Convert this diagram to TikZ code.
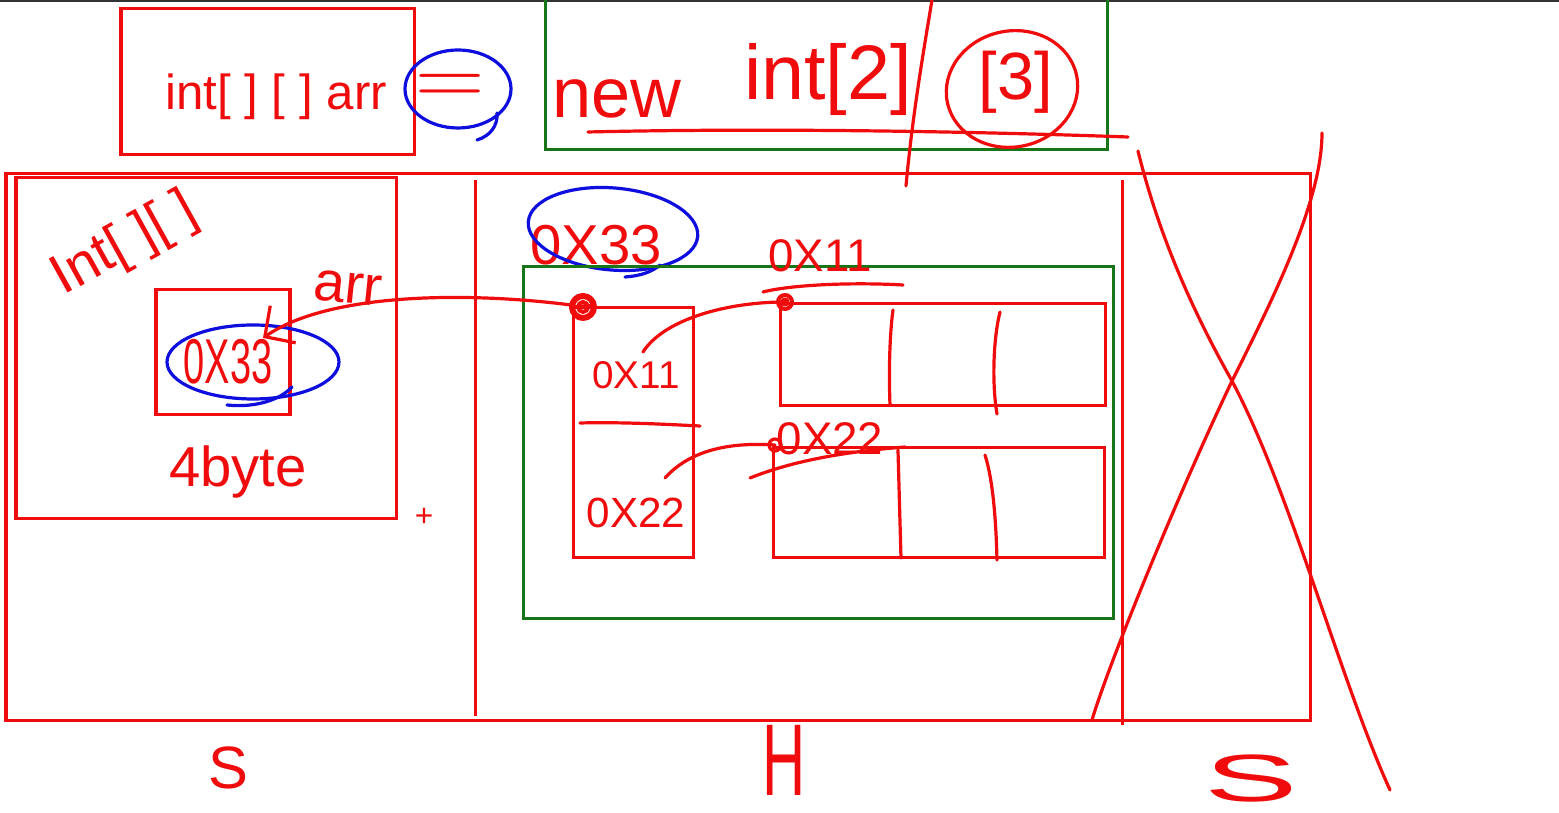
\documentclass[tikz,border=0pt]{standalone}
\usepackage{fontspec}
\setmainfont{Liberation Sans}
\usetikzlibrary{arrows.meta}
\definecolor{pred}{RGB}{240,12,12}
\definecolor{pgreen}{RGB}{24,118,24}
\definecolor{pblue}{RGB}{14,14,222}
\tikzset{
  redbox/.style={draw=pred,line width=0.03cm},
  greenbox/.style={draw=pgreen,line width=0.03cm},
  pen/.style={draw=pred,line width=0.032cm,line cap=round,line join=round},
  bluepen/.style={draw=pblue,line width=0.032cm,line cap=round},
  hand/.style={text=pred,inner sep=0pt},
  fs/.style={font=\fontsize{#1}{#1}\selectfont},
}
\begin{document}
\begin{tikzpicture}[x=0.01cm,y=-0.01cm]
\useasboundingbox (0,0) rectangle (1559,813);
\fill[white] (0,0) rectangle (1559,813);
\fill[black!80] (0,0) rectangle (1559,2);

% ---------- declaration ----------
\draw[redbox] (121,9) rectangle (414,155);
\node[hand,fs=14] (decl) at (276,97) {int[ ] [ ] arr};
\node[hand,fs=30,xscale=1.1] (eq) at (450,90) {$=$};
\draw[bluepen] (458,89) ellipse [x radius=53, y radius=39];
\draw[bluepen] (477,140) .. controls (490,136) and (498,126) .. (497,113);

% ---------- new int[2][3] ----------
\draw[greenbox] (545,-5) -- (545,150) -- (1107,150) -- (1107,-5);
\node[hand,fs=20] (new) at (617,99) {new};
\node[hand,fs=22] (int2) at (828,80) {int[2]};
\node[hand,fs=19] (int3) at (1016,82) {[3]};
\draw[pen] (588,132) .. controls (760,128) and (960,131) .. (1128,137);
\draw[pen] (932,0) .. controls (922,60) and (912,120) .. (906,186);
\draw[pen,rotate around={12:(1012,89)}] (1012,89) ellipse [x radius=66, y radius=58];

% ---------- memory frame ----------
\draw[redbox] (6,174) rectangle (1310,721);
\draw[redbox] (475,180) -- (475,716);
\draw[redbox] (1122,180) -- (1122,725);

% ---------- stack ----------
\draw[redbox] (16,178) rectangle (396,519);
\node[hand,fs=16,rotate=29] (ttype) at (125,245) {Int[ ][ ]};
\draw[redbox] (156,290) rectangle (290,415);
\node[hand,fs=18,xscale=0.6] (sref) at (228,362) {0X33};
\draw[bluepen] (253,362) ellipse [x radius=86, y radius=37];
\draw[bluepen] (227,405) .. controls (255,408) and (280,400) .. (292,387);
\node[hand,fs=16,rotate=-6] (arrname) at (348,288) {arr};
\node[hand,fs=16] (size) at (238,472) {4byte};
\node[text=pred,fs=9,inner sep=0pt] (cursor) at (424,517) {+};

% ---------- heap ----------
\node[hand,fs=16] (haddr) at (596,245) {0X33};
\draw[bluepen,rotate around={-5:(613,229)}] (613,229) ellipse [x radius=85, y radius=41];
\draw[bluepen] (625,277) .. controls (640,276) and (652,272) .. (660,265);
\draw[greenbox] (523,267) rectangle (1113,619);

\draw[redbox] (573,308) rectangle (693,558);
\draw[pen] (580,423) .. controls (620,422) and (660,424) .. (700,426);
\node[hand,fs=11] (r1) at (636,375) {0X11};
\node[hand,fs=12] (r2) at (636,513) {0X22};

\draw[redbox] (780,304) rectangle (1105,406);
\draw[pen] (893,310) .. controls (889,340) and (889,380) .. (890,405);
\draw[pen] (1000,312) .. controls (993,340) and (992,385) .. (997,414);
\draw[redbox] (773,448) rectangle (1104,558);
\draw[pen] (898,450) -- (901,558);
\draw[pen] (985,455) .. controls (993,480) and (996,520) .. (997,560);

\node[hand,fs=13] (a1) at (820,256) {0X11};
\draw[pen] (763,292) .. controls (790,285) and (850,282) .. (903,285);
\node[hand,fs=13] (a2) at (830,439) {0X22};
\draw[pen] (750,478) .. controls (790,462) and (840,452) .. (905,447);

% reference dots
\coordinate (d0) at (583,307);
\coordinate (d1) at (785,302);
\coordinate (d2) at (775,445);
\draw[pen,line width=0.06cm] (d0) circle [radius=11];
\draw[pen,line width=0.04cm] (d0) circle [radius=5];
\draw[pen,line width=0.04cm] (574,307) -- (592,306);
\draw[pen,line width=0.04cm] (d1) circle [radius=7];
\draw[pen] (d1) circle [radius=3];
\draw[pen] (d2) circle [radius=6];

% pointers
\coordinate (tip) at (263,338);
\draw[pen,-{Straight Barb[length=0.22cm,width=0.45cm]}] (571,305) .. controls (470,292) and (330,292) .. (tip);
\coordinate (r1s) at (643,352);
\coordinate (r2s) at (665,478);
\draw[pen] (r1s) .. controls (665,318) and (730,302) .. (d1);
\draw[pen] (r2s) .. controls (690,450) and (730,442) .. (d2);

% ---------- crossed-out region ----------
\draw[pen] (1138,151) .. controls (1160,240) and (1195,315) .. (1232,381)
           .. controls (1290,490) and (1340,680) .. (1390,790);
\draw[pen] (1322,133) .. controls (1322,200) and (1275,295) .. (1232,381)
           .. controls (1180,490) and (1110,660) .. (1092,720);

% ---------- region labels ----------
\node[hand,fs=17] (ls) at (228,768) {S};
\node[hand,fs=20,xscale=0.85,yscale=1.45] (lh) at (784,760) {H};
\node[hand,fs=19,xscale=2.1] (rs) at (1251,779) {S};
\end{tikzpicture}
\end{document}
